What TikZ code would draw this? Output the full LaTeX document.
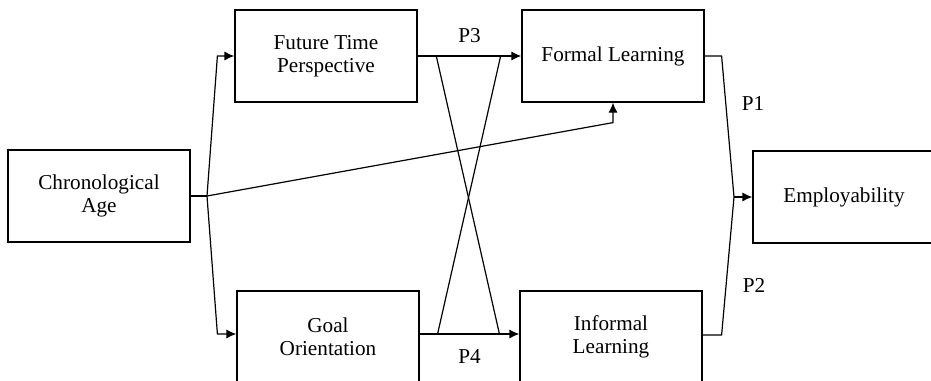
\documentclass[tikz,border=0pt]{standalone}
\usepackage{fontspec}
\setmainfont{Liberation Serif}
\usetikzlibrary{arrows.meta,calc}

\tikzset{
  box/.style={draw,line width=0.6pt,minimum width=91pt,minimum height=46pt,
    align=center,inner sep=0pt},
  link/.style={line width=0.6pt},
  arr/.style={link,-{Latex[length=5pt,width=4.5pt]}}
}

\begin{document}
\begin{tikzpicture}[x=0.5pt,y=-0.5pt,font=\fontsize{10.6}{11.5}\selectfont]
  \useasboundingbox (0,0) rectangle (931,380);
  \clip (0,0) rectangle (931,380);
  % boxes
  \node[box] (age) at (99,196) {Chronological\\Age};
  \node[box] (ftp) at (326,56) {Future Time\\Perspective};
  \node[box] (goal) at (328,337) {Goal\\Orientation};
  \node[box] (formal) at (613,56) {Formal Learning};
  \node[box] (informal) at (611,337) {Informal\\Learning};
  \node[box] (employ) at (844,197) {Employability};
  \coordinate (split) at (207,196);
  \coordinate (merge) at (734,197);
  \coordinate (gout) at ([yshift=1.5pt]goal.east);
  \coordinate (iin) at ([yshift=1.5pt]informal.west);
  \coordinate (iout) at ([yshift=1pt]informal.east);
  % age to the mediators
  \draw[link] (age.east) -- (split);
  \draw[arr] (split) -- ($(ftp.west)+(-17,0)$) -- (ftp.west);
  \draw[arr] (split) -- ($(goal.west)+(-19,-3)$) -- ([yshift=1.5pt]goal.west);
  \draw[arr] (split) -- ($(formal.south)+(0,20)$) -- (formal.south);
  % mediators to learning
  \draw[arr] (ftp.east) -- node[above=3pt] (p3) {P3} (formal.west);
  \draw[arr] (gout) -- node[below=4pt] (p4) {P4} (iin);
  \draw[link] ($(ftp.east)!0.18!(formal.west)$) -- ($(gout)!0.8!(iin)$);
  \draw[link] ($(ftp.east)!0.8!(formal.west)$) -- ($(gout)!0.18!(iin)$);
  % learning to employability
  \draw[link] (formal.east) -- ++(17,0) -- (merge);
  \draw[link] (iout) -- ++(19,0) -- (merge);
  \draw[arr] (merge) -- (employ.west);
  \node (p1) at (753,104) {P1};
  \node (p2) at (754,285) {P2};
\end{tikzpicture}
\end{document}
